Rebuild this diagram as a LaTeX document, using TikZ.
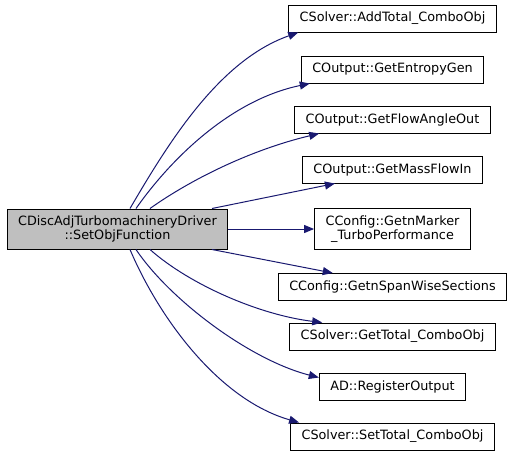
\documentclass[tikz,border=0pt]{standalone}
\usepackage{fontspec}
\setmainfont{DejaVu Sans}
\usetikzlibrary{arrows.meta}
\definecolor{edgeblue}{HTML}{191970}
\definecolor{maingray}{HTML}{BFBFBF}

\begin{document}
\begin{tikzpicture}[
        x=1pt, y=-1pt,
        every node/.style={draw=black, line width=1pt, fill=white, align=center,
            font=\fontsize{12.8}{14}\selectfont, inner xsep=11pt, inner ysep=0pt,
            minimum height=27pt},
        call/.style={draw=edgeblue, line width=1pt, -{Triangle[length=10pt,width=8pt]}}
    ]
        \useasboundingbox (0,0) rectangle (513,459);

        % Klicatelj (sivo polje levo)
        \node[fill=maingray, minimum height=40pt] (main) at (117.5, 229)
            {CDiscAdjTurbomachineryDriver\\::SetObjFunction};

        % --- KLICANE FUNKCIJE ---
        \foreach \name/\txt/\y in {
                addtotal/{CSolver::AddTotal\_ComboObj}/18.5,
                entropy/{COutput::GetEntropyGen}/69.5,
                flowangle/{COutput::GetFlowAngleOut}/119.5,
                massflow/{COutput::GetMassFlowIn}/169.5,
                spanwise/{CConfig::GetnSpanWiseSections}/287,
                gettotal/{CSolver::GetTotal\_ComboObj}/336.5,
                register/{AD::RegisterOutput}/386.5,
                settotal/{CSolver::SetTotal\_ComboObj}/436.5} {
            \node (\name) at (392.5, \y) {\txt};
        }
        \node[minimum height=41pt] (marker) at (392.5, 229)
            {CConfig::GetnMarker\\\_TurboPerformance};

        % Povezave navzgor
        \draw[call] ([xshift=12.5pt]main.north) .. controls (170,140) and (220,60) .. ([xshift=10pt]addtotal.south west);
        \draw[call] ([xshift=18.5pt]main.north) .. controls (170,160) and (230,100) .. ([xshift=9pt]entropy.south west);
        \draw[call] ([xshift=32.5pt]main.north) .. controls (190,180) and (250,150) .. ([xshift=25pt]flowangle.south west);
        \draw[call] ([xshift=94.5pt]main.north) -- ([xshift=33pt]massflow.south west);

        % Vodoravna povezava
        \draw[call] (main.east) -- (marker.west);

        % Povezave navzdol
        \draw[call] ([xshift=94.5pt]main.south) -- ([xshift=55pt]spanwise.north west);
        \draw[call] ([xshift=32.5pt]main.south) .. controls (190,285) and (260,315) .. ([xshift=33pt]gettotal.north west);
        \draw[call] ([xshift=18.5pt]main.south) .. controls (170,300) and (250,360) .. ([yshift=-5pt]register.north west);
        \draw[call] ([xshift=12.5pt]main.south) .. controls (160,320) and (220,400) .. ([xshift=9pt]settotal.north west);
    \end{tikzpicture}
\end{document}
